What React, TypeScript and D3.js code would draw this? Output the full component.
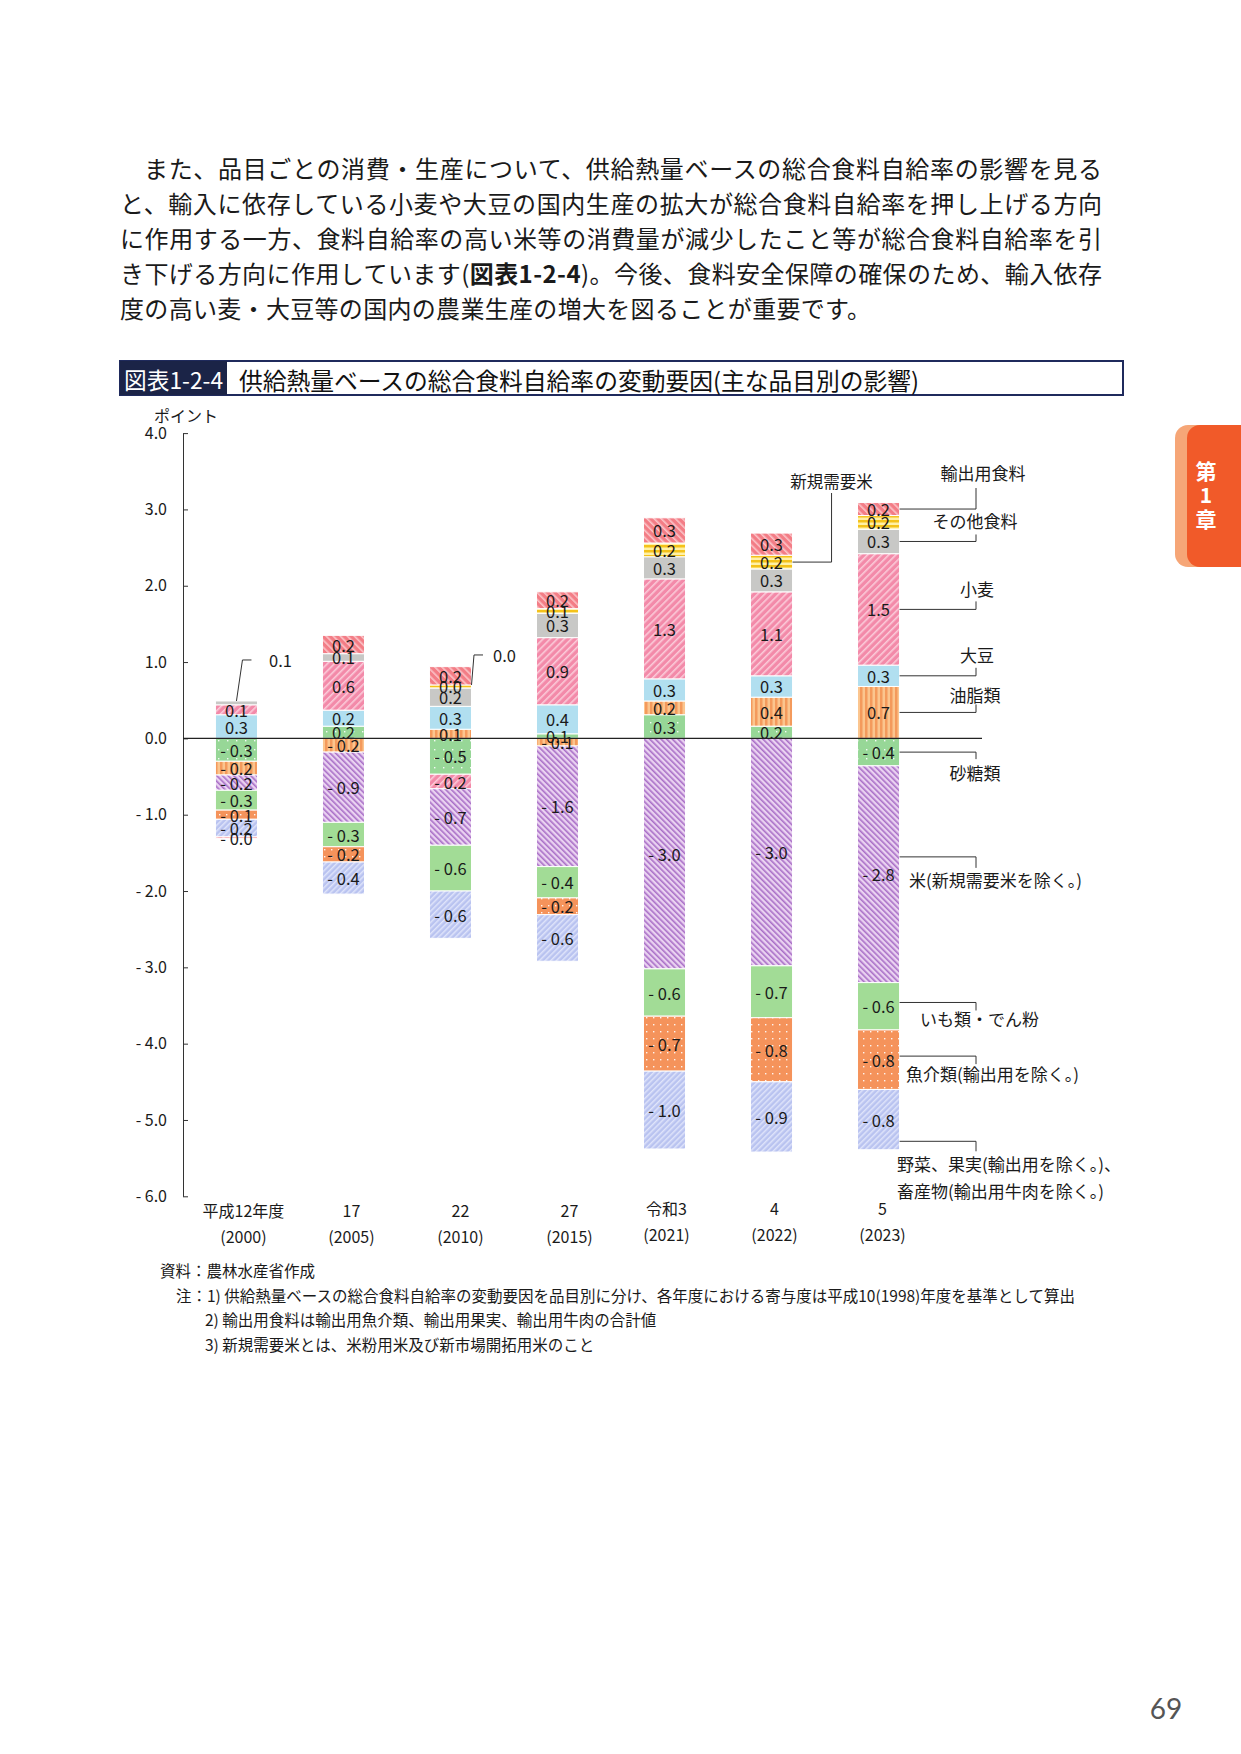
import * as d3 from "d3"
import React, { useRef, useEffect } from 'react';

// fiscal years (Japanese era + western)
const years = ["平成12年度", "17", "22", "27", "令和3", "4", "5"];
const yearsWest = ["(2000)", "(2005)", "(2010)", "(2015)", "(2021)", "(2022)", "(2023)"];

// contributions (points) per item
const sugar = [-0.3, 0.16, -0.47, 0.06, 0.31, 0.16, -0.36];
const oil = [-0.18, -0.18, 0.12, -0.1, 0.18, 0.38, 0.68];
const soy = [0.31, 0.21, 0.3, 0.38, 0.29, 0.28, 0.28];
const wheat = [0.13, 0.64, -0.19, 0.88, 1.31, 1.1, 1.46];
const rice = [-0.2, -0.92, -0.74, -1.58, -3.02, -2.98, -2.84];
const potato = [-0.26, -0.32, -0.6, -0.41, -0.62, -0.68, -0.62];
const fish = [-0.12, -0.2, 0, -0.22, -0.72, -0.84, -0.78];
const veg = [-0.23, -0.42, -0.62, -0.61, -1.02, -0.92, -0.79];
const other = [0.05, 0.1, 0.24, 0.32, 0.29, 0.3, 0.32];
const newRice = [0, 0, 0.04, 0.06, 0.18, 0.18, 0.18];
const exportFood = [-0.02, 0.24, 0.24, 0.22, 0.33, 0.29, 0.17];

const keys = ["sugar", "oil", "soy", "wheat", "rice", "potato", "fish", "veg", "other", "newRice", "export"];
const seriesData: Record<string, number[]> = {
    sugar, oil, soy, wheat, rice, potato, fish, veg, other, newRice, export: exportFood,
};

const yTicks = [-6, -5, -4, -3, -2, -1, 0, 1, 2, 3, 4];

// right side callouts for the last bar
const legendItems = [
    { key: "export", lines: ["輸出用食料"], frac: 0.5, rise: -21, textDy: -16, dx: 7, anchor: "middle" },
    { key: "other", lines: ["その他食料"], frac: 0.5, rise: -7, textDy: -14, dx: -1, anchor: "middle" },
    { key: "wheat", lines: ["小麦"], frac: 0.5, rise: -8, textDy: -13, dx: 1, anchor: "middle" },
    { key: "soy", lines: ["大豆"], frac: 0.5, rise: -8, textDy: -13, dx: 1, anchor: "middle" },
    { key: "oil", lines: ["油脂類"], frac: 0.5, rise: -8, textDy: -10, dx: -1, anchor: "middle" },
    { key: "sugar", lines: ["砂糖類"], frac: 0.5, rise: 7, textDy: 13, dx: -1, anchor: "middle" },
    { key: "rice", lines: ["米(新規需要米を除く。)"], frac: 0.42, rise: 11, textDy: 12, dx: -67, anchor: "start" },
    { key: "potato", lines: ["いも類・でん粉"], frac: 0.42, rise: 8, textDy: 8, dx: -56, anchor: "start" },
    { key: "fish", lines: ["魚介類(輸出用を除く。)"], frac: 0.44, rise: 8, textDy: 9, dx: -70, anchor: "start" },
    { key: "veg", lines: ["野菜、果実(輸出用を除く。)、", "畜産物(輸出用牛肉を除く。)"], frac: 0.86, rise: 10, textDy: 12, dx: -79, anchor: "start" },
];

const paragraph = [
    "また、品目ごとの消費・生産について、供給熱量ベースの総合食料自給率の影響を見る",
    "と、輸入に依存している小麦や大豆の国内生産の拡大が総合食料自給率を押し上げる方向",
    "に作用する一方、食料自給率の高い米等の消費量が減少したこと等が総合食料自給率を引",
];

const notes = [
    "資料：農林水産省作成",
    "注：1) 供給熱量ベースの総合食料自給率の変動要因を品目別に分け、各年度における寄与度は平成10(1998)年度を基準として算出",
    "2) 輸出用食料は輸出用魚介類、輸出用果実、輸出用牛肉の合計値",
    "3) 新規需要米とは、米粉用米及び新市場開拓用米のこと",
];

const FONT = "'Noto Sans CJK JP', 'Noto Sans', sans-serif";

const fmt = (v: number) => (v < 0 ? "- " + Math.abs(v).toFixed(1) : v.toFixed(1));

const App: React.FC = () => {
    const svgRef = useRef<SVGSVGElement | null>(null);

    useEffect(() => {
        const width = 1241;
        const height = 1754;
        const svg = d3.select(svgRef.current)
            .attr('width', width)
            .attr('height', height)
            .style('font-family', FONT);
        svg.selectAll("*").remove();

        svg.append('rect').attr('width', width).attr('height', height).attr('fill', '#fff');

        // patterns
        const defs = svg.append('defs');
        const stripe = (id: string, bg: string, fg: string, size: number, lw: number, angle: number) => {
            const p = defs.append('pattern').attr('id', id).attr('patternUnits', 'userSpaceOnUse')
                .attr('width', size).attr('height', size).attr('patternTransform', `rotate(${angle})`);
            p.append('rect').attr('width', size).attr('height', size).attr('fill', bg);
            p.append('rect').attr('width', lw).attr('height', size).attr('fill', fg);
        };
        const dots = (id: string, bg: string, size: number) => {
            const p = defs.append('pattern').attr('id', id).attr('patternUnits', 'userSpaceOnUse')
                .attr('width', size).attr('height', size);
            p.append('rect').attr('width', size).attr('height', size).attr('fill', bg);
            p.append('rect').attr('x', 2).attr('y', 2).attr('width', 1.4).attr('height', 1.4).attr('fill', '#fff').attr('opacity', 0.9);
        };
        stripe('pExport', '#f37d86', '#fbc4c8', 5, 1.6, -45);
        stripe('pWheat', '#f38aa9', '#fbcbd9', 5, 1.6, 45);
        stripe('pNew', '#fff1a6', '#f4c21a', 5, 2.5, 90);
        stripe('pOil', '#fbc58e', '#f49a5c', 5, 2.5, 0);
        stripe('pRice', '#ead2f1', '#a96fc7', 4, 1.6, -45);
        stripe('pVeg', '#b9c3f0', '#dfe4fa', 4, 1.5, 45);
        dots('pSugar', '#97d797', 9);
        dots('pFish', '#f5935b', 7);

        const fills: Record<string, string> = {
            sugar: 'url(#pSugar)', oil: 'url(#pOil)', soy: '#b1dff0', wheat: 'url(#pWheat)',
            rice: 'url(#pRice)', potato: '#a2dc96', fish: 'url(#pFish)', veg: 'url(#pVeg)',
            other: '#c8c8c6', newRice: 'url(#pNew)', export: 'url(#pExport)',
        };

        // paragraph
        const para = svg.append('g').attr('fill', '#1a1a1a').style('font-size', '24px');
        const paraY = [167, 202, 237, 272, 307];
        paragraph.forEach((line, i) => {
            para.append('text').attr('x', i === 0 ? 144 : 120).attr('y', paraY[i])
                .attr('dominant-baseline', 'central')
                .attr('textLength', i === 0 ? 958 : 982).attr('lengthAdjust', 'spacing')
                .text(line);
        });
        const l4 = para.append('text').attr('x', 120).attr('y', paraY[3]).attr('dominant-baseline', 'central')
            .attr('textLength', 982).attr('lengthAdjust', 'spacing');
        l4.append('tspan').text("き下げる方向に作用しています(");
        l4.append('tspan').attr('font-weight', 'bold').text("図表1-2-4");
        l4.append('tspan').text(")。今後、食料安全保障の確保のため、輸入依存");
        para.append('text').attr('x', 120).attr('y', paraY[4]).attr('dominant-baseline', 'central')
            .attr('textLength', 751).attr('lengthAdjust', 'spacing')
            .text("度の高い麦・大豆等の国内の農業生産の増大を図ることが重要です。");

        // title box
        svg.append('rect').attr('x', 120).attr('y', 361).attr('width', 1003).attr('height', 34)
            .attr('fill', '#fff').attr('stroke', '#1f2a5c').attr('stroke-width', 2);
        svg.append('rect').attr('x', 120).attr('y', 361).attr('width', 107).attr('height', 34).attr('fill', '#1b2447');
        svg.append('text').attr('x', 124).attr('y', 379).attr('dominant-baseline', 'central')
            .attr('fill', '#fff').style('font-size', '23px').attr('textLength', 99).attr('lengthAdjust', 'spacingAndGlyphs')
            .text("図表1-2-4");
        svg.append('text').attr('x', 239).attr('y', 379).attr('dominant-baseline', 'central')
            .attr('fill', '#111').style('font-size', '24px').attr('textLength', 680).attr('lengthAdjust', 'spacingAndGlyphs')
            .text("供給熱量ベースの総合食料自給率の変動要因(主な品目別の影響)");

        // scales
        const x = d3.scaleBand().domain(years).range([183, 932]).paddingInner(0.607).paddingOuter(0.303);
        const y = d3.scaleLinear().domain([-6, 4]).range([1196.3, 433.1]);

        const rows = years.map((yr, i) => {
            const r: any = { year: yr };
            keys.forEach(k => { r[k] = seriesData[k][i]; });
            return r;
        });
        const stacked = d3.stack<any>().keys(keys).offset(d3.stackOffsetDiverging)(rows);
        const byKey: Record<string, any> = {};
        stacked.forEach(s => { byKey[s.key] = s; });

        // bars
        const g = svg.append('g');
        stacked.forEach(s => {
            g.selectAll(null)
                .data(s.filter((d: any) => d[1] !== d[0]))
                .enter()
                .append('rect')
                .attr('x', (d: any) => x(d.data.year)!)
                .attr('y', (d: any) => y(Math.max(d[0], d[1])))
                .attr('width', x.bandwidth())
                .attr('height', (d: any) => Math.abs(y(d[0]) - y(d[1])))
                .attr('fill', fills[s.key])
                .attr('stroke', '#fff')
                .attr('stroke-width', 1);
        });

        // segment labels (the 2000 "other" sliver is labelled with a leader instead)
        const skip = new Set(["other-0"]);
        stacked.forEach(s => {
            s.forEach((d: any, i: number) => {
                const v = seriesData[s.key][i];
                if (v === 0 || skip.has(`${s.key}-${i}`)) return;
                g.append('text')
                    .attr('x', x(d.data.year)! + x.bandwidth() / 2)
                    .attr('y', y((d[0] + d[1]) / 2))
                    .attr('text-anchor', 'middle')
                    .attr('dominant-baseline', 'central')
                    .attr('fill', '#1a1a1a')
                    .style('font-size', '16.5px')
                    .text(fmt(v));
            });
        });

        // axis
        const yAxis = d3.axisLeft(y).tickValues(yTicks).tickSize(-5).tickSizeOuter(0).tickPadding(16)
            .tickFormat(d => fmt(+d));
        const ag = svg.append('g').attr('transform', 'translate(183,0)').call(yAxis);
        ag.select('.domain').attr('stroke', '#333');
        ag.selectAll('.tick line').attr('stroke', '#333');
        ag.selectAll('.tick text').attr('fill', '#1a1a1a').style('font-size', '16px').style('font-family', FONT);
        svg.append('text').attr('x', 154).attr('y', 415).attr('dominant-baseline', 'central')
            .attr('fill', '#1a1a1a').style('font-size', '16px').text("ポイント");

        // zero line
        svg.append('line').attr('x1', 183).attr('x2', 982).attr('y1', y(0)).attr('y2', y(0))
            .attr('stroke', '#222').attr('stroke-width', 1.3);

        // x labels
        const labelShift = [7, 8, 10, 12, 2, 3, 4];
        years.forEach((yr, i) => {
            const cx = x(yr)! + x.bandwidth() / 2 + labelShift[i];
            const lift = i >= 4 ? -2 : 0;
            svg.append('text').attr('x', cx).attr('y', 1210 + lift).attr('text-anchor', 'middle')
                .attr('dominant-baseline', 'central').attr('fill', '#1a1a1a').style('font-size', '16px').text(yr);
            svg.append('text').attr('x', cx).attr('y', 1236 + lift).attr('text-anchor', 'middle')
                .attr('dominant-baseline', 'central').attr('fill', '#1a1a1a').style('font-size', '16px').text(yearsWest[i]);
        });

        const leader = svg.append('g').attr('fill', 'none').attr('stroke', '#333').attr('stroke-width', 1);

        // small leaders for thin slices
        const barNotes = [
            { i: 0, key: "other", text: "0.1", fromRight: false },
            { i: 2, key: "newRice", text: "0.0", fromRight: true },
        ];
        barNotes.forEach(n => {
            const d = byKey[n.key][n.i];
            const x0 = x(years[n.i])! + (n.fromRight ? x.bandwidth() : x.bandwidth() / 2);
            const y0 = y(d[1]);
            const y1 = y0 - (n.fromRight ? 30 : 41);
            leader.append('path').attr('d', `M${x0},${y0}L${x0 + (n.fromRight ? 2.5 : 6)},${y1}h9`);
            svg.append('text').attr('x', x0 + (n.fromRight ? 33 : 44)).attr('y', y1).attr('text-anchor', 'middle')
                .attr('dominant-baseline', 'central').attr('fill', '#1a1a1a').style('font-size', '16.5px').text(n.text);
        });

        // 新規需要米 callout on 2022 bar
        {
            const d = byKey["newRice"][5];
            const x0 = x(years[5])! + x.bandwidth();
            const y0 = y((d[0] + d[1]) / 2);
            leader.append('path').attr('d', `M${x0},${y0}H${x0 + 39}V${493}`);
            svg.append('text').attr('x', x0 + 39).attr('y', 481).attr('text-anchor', 'middle')
                .attr('dominant-baseline', 'central').attr('fill', '#1a1a1a').style('font-size', '16.5px').text("新規需要米");
        }

        // right side callouts for the 2023 bar
        const last = years.length - 1;
        const xr = x(years[last])! + x.bandwidth();
        const elbow = 976;
        legendItems.forEach(it => {
            const d = byKey[it.key][last];
            const top = y(Math.max(d[0], d[1]));
            const bot = y(Math.min(d[0], d[1]));
            const ya = top + (bot - top) * it.frac;
            const ye = ya + it.rise;
            leader.append('path').attr('d', `M${xr},${ya}H${elbow}V${ye}`);
            it.lines.forEach((ln, j) => {
                svg.append('text').attr('x', elbow + it.dx).attr('y', ye + it.textDy + j * 27)
                    .attr('text-anchor', it.anchor).attr('dominant-baseline', 'central')
                    .attr('fill', '#1a1a1a').style('font-size', '17px').text(ln);
            });
        });

        // notes
        const noteX = [160, 176, 205, 205];
        const noteY = [1270, 1295, 1319, 1344];
        notes.forEach((n, i) => {
            svg.append('text').attr('x', noteX[i]).attr('y', noteY[i]).attr('dominant-baseline', 'central')
                .attr('fill', '#1a1a1a').style('font-size', '15.5px').text(n);
        });

        // chapter tab
        svg.append('rect').attr('x', 1175).attr('y', 425).attr('width', 90).attr('height', 142).attr('rx', 13).attr('fill', '#f6a677');
        svg.append('rect').attr('x', 1187).attr('y', 425).attr('width', 80).attr('height', 142).attr('rx', 13).attr('fill', '#f15a29');
        ["第", "1", "章"].forEach((t, i) => {
            svg.append('text').attr('x', 1206).attr('y', [470, 494, 518][i]).attr('text-anchor', 'middle')
                .attr('dominant-baseline', 'central').attr('fill', '#fff').attr('font-weight', 'bold')
                .style('font-size', '21px').text(t);
        });

        // page number
        svg.append('text').attr('x', 1166).attr('y', 1708).attr('text-anchor', 'middle').attr('dominant-baseline', 'central')
            .attr('fill', '#555').style('font-size', '28px').style('font-family', "Lato, 'Noto Sans', sans-serif").text("69");
    }, []);

    return (
        <svg ref={svgRef} style={{ position: 'absolute', left: 0, top: 0 }}></svg>
    );
};

export default App;
